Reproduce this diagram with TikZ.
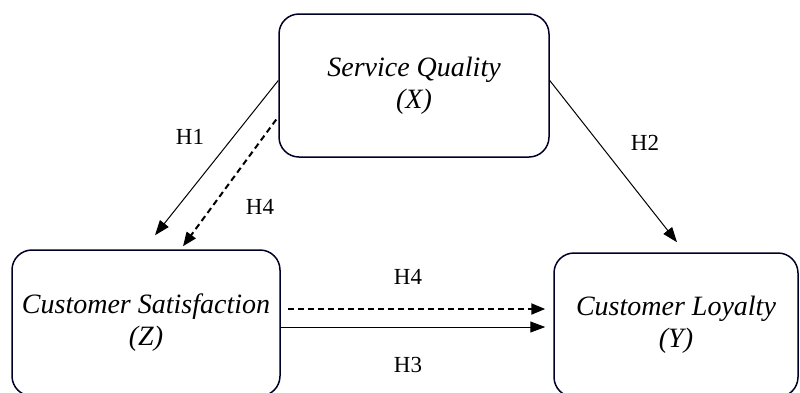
\documentclass[tikz,border=0pt]{standalone}
\usepackage{fontspec}
\setmainfont{Liberation Serif}
\usetikzlibrary{arrows.meta,calc}
\begin{document}
\begin{tikzpicture}[x=1pt,y=-1pt,
  var/.style={draw=black!85!blue, line width=1.5pt, rounded corners=20pt, align=center,
     font=\fontsize{28}{32}\selectfont\itshape, inner sep=0pt},
  arr/.style={line width=1pt, -{Triangle[length=15pt,width=11pt]}},
  darr/.style={line width=2pt, dash pattern=on 6pt off 4pt, -{Triangle[length=14pt,width=11pt]}},
  hlab/.style={font=\fontsize{23}{25}\selectfont}]
\useasboundingbox (0,0) rectangle (800,392);
\clip (0,0) rectangle (800,392);
\node[var, minimum width=270pt, minimum height=143pt] (sq) at (414,85.5) {Service Quality\\(X)};
\node[var, minimum width=268pt, minimum height=146pt] (cs) at (146,323) {Customer Satisfaction\\(Z)};
\node[var, minimum width=244pt, minimum height=144pt] (yq) at (676,325) {Customer Loyalty\\(Y)};
\draw[arr] ([yshift=5pt]sq.west) -- ([xshift=9pt,yshift=14pt]cs.north);
\draw[darr] ([xshift=-2pt,yshift=-34pt]sq.west) -- ([xshift=37pt,yshift=3pt]cs.north);
\draw[arr] ([yshift=5pt]sq.east) -- ([xshift=1pt,yshift=10pt]yq.north);
\draw[darr] ([xshift=7pt,yshift=14pt]cs.east) -- ([xshift=-8pt,yshift=16pt]yq.west);
\draw[arr] ([yshift=-4pt]cs.east) -- ([xshift=-8pt,yshift=-2pt]yq.west);
\node[hlab] (l1) at (190,137) {H1};
\node[hlab] (l4a) at (260,207) {H4};
\node[hlab] (l2) at (645,143) {H2};
\node[hlab] (l4b) at (408,277) {H4};
\node[hlab] (l3) at (408,365) {H3};
\end{tikzpicture}
\end{document}
